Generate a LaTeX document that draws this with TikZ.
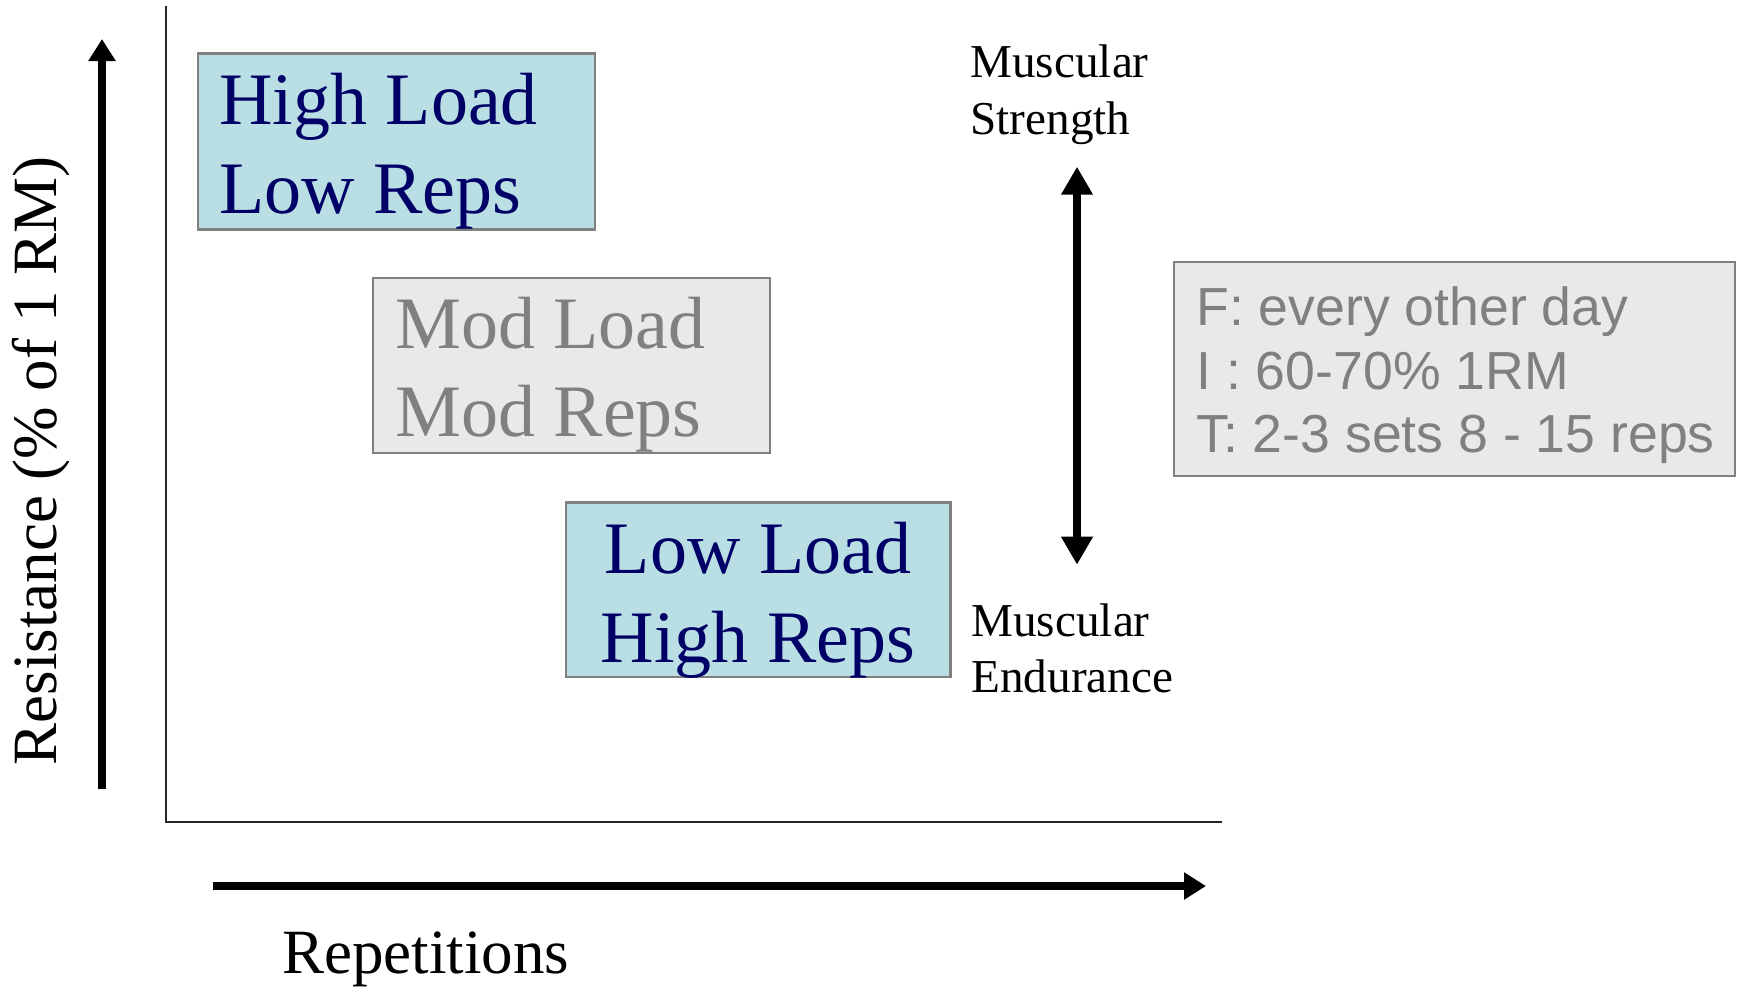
\documentclass[tikz,border=0pt]{standalone}
\usepackage{fontspec}
\setmainfont{Liberation Serif}
\newfontfamily\arialf{Liberation Sans}
\usetikzlibrary{arrows.meta}
\definecolor{boxblue}{RGB}{185,223,228}
\definecolor{boxgray}{RGB}{233,233,233}
\definecolor{edgegray}{RGB}{128,128,128}
\definecolor{navytext}{RGB}{0,0,102}
\definecolor{graytext}{RGB}{128,128,128}
\begin{document}
\begin{tikzpicture}[x=0.5pt,y=-0.5pt,
  boxbase/.style={draw=edgegray, line width=1.1pt, inner sep=0pt, outer sep=0pt, anchor=north west},
  bluebox/.style={boxbase, fill=boxblue},
  graybox/.style={boxbase, fill=boxgray},
  bigtxt/.style={inner sep=0pt, font=\fontsize{37}{44}\selectfont},
  navyw/.style={bigtxt, text=navytext, anchor=base west},
  navyc/.style={bigtxt, text=navytext, anchor=base},
  grayw/.style={bigtxt, text=graytext, anchor=base west},
  fitxt/.style={inner sep=0pt, anchor=base west, text=graytext, font=\arialf\fontsize{26.8}{32}\selectfont},
  musc/.style={inner sep=0pt, anchor=base west, font=\fontsize{23.6}{28}\selectfont},
  axlabel/.style={inner sep=0pt, font=\fontsize{31.5}{38}\selectfont},
  axisline/.style={line width=1pt, draw=black!85},
  thickarrow/.style={line width=4pt, -{Triangle[length=11pt,width=13pt]}},
  dblarrow/.style={line width=3.6pt, {Triangle[length=14pt,width=15pt]}-{Triangle[length=14pt,width=15pt]}}
]
\useasboundingbox (0,0) rectangle (1743,987);

% axes
\coordinate (origin) at (165.6,822);
\coordinate (ytop) at (165.6,6);
\coordinate (xend) at (1222,822);
\draw[axisline] (ytop) -- (origin) -- (xend);

% boxes
\node[bluebox, minimum width=198.5pt, minimum height=88pt] (hlbox) at (198,53.4) {};
\node[graybox, minimum width=198.35pt, minimum height=87.5pt] (mlbox) at (373.3,277.7) {};
\node[bluebox, minimum width=192.3pt, minimum height=87.25pt] (llbox) at (565.8,502.5) {};
\node[graybox, minimum width=280.5pt, minimum height=106.75pt] (fitbox) at (1174,262.3) {};

% box texts
\node[navyw] (hl1) at (219,124) {High Load};
\node[navyw] (hl2) at (219,213) {Low Reps};
\node[grayw] (ml1) at (395,348) {Mod Load};
\node[grayw] (ml2) at (395,436) {Mod Reps};
\node[navyc] (ll1) at (758,573) {Low Load};
\node[navyc] (ll2) at (758,662) {High Reps};
\node[fitxt] (f1) at (1196,325.7) {F: every other day};
\node[fitxt] (f2) at (1196,389) {I : 60-70\% 1RM};
\node[fitxt] (f3) at (1196,452.4) {T: 2-3 sets 8 - 15 reps};

% muscular labels
\node[musc] (ms1) at (970,77.5) {Muscular};
\node[musc] (ms2) at (970,134) {Strength};
\node[musc] (me1) at (971,636) {Muscular};
\node[musc] (me2) at (971,692) {Endurance};

% double arrow
\coordinate (dtop) at (1077,166.7);
\coordinate (dbot) at (1077,564.7);
\draw[dblarrow] (dbot) -- (dtop);

% axis arrows
\coordinate (yabot) at (102,789);
\coordinate (yatop) at (102,39);
\draw[thickarrow] (yabot) -- (yatop);
\coordinate (xaleft) at (213,886);
\coordinate (xaright) at (1206,886);
\draw[thickarrow] (xaleft) -- (xaright);

% axis labels
\node[axlabel, rotate=90] (ylab) at (41,461) {Resistance (\% of 1 RM)};
\node[axlabel, anchor=base west] (xlab) at (282,973) {Repetitions};
\end{tikzpicture}
\end{document}
